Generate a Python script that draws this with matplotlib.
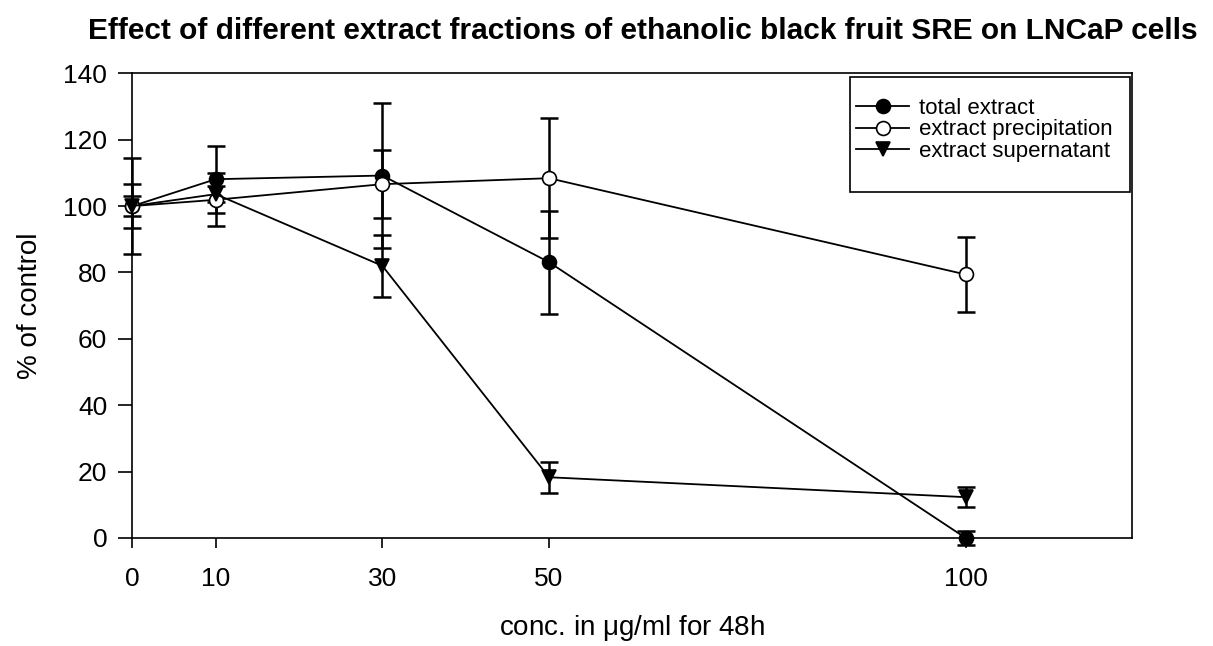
import matplotlib
matplotlib.use("Agg")
import matplotlib.pyplot as plt
from matplotlib.patches import Rectangle

plt.rcParams['font.family'] = ['Liberation Sans', 'DejaVu Sans']
plt.rcParams['mathtext.fontset'] = 'custom'
plt.rcParams['mathtext.rm'] = 'Liberation Sans'

conc = [0, 10, 30, 50, 100]

total_mean = [100, 108.1, 109.2, 83.1, 0.0]
total_err = [14.5, 10.1, 21.9, 15.5, 2.2]

precip_mean = [100, 101.9, 106.6, 108.4, 79.4]
precip_err = [6.6, 8.0, 10.3, 18.0, 11.3]

super_mean = [100, 103.6, 82.0, 18.3, 12.3]
super_err = [3.0, 2.5, 9.3, 4.7, 3.0]

labels = ["total extract", "extract precipitation", "extract supernatant"]
x_ticks = [0, 10, 30, 50, 100]
y_ticks = [0, 20, 40, 60, 80, 100, 120, 140]

fig = plt.figure(figsize=(12.13, 6.46), dpi=100)
ax = fig.add_axes([0.1091, 0.1672, 0.8244, 0.7193])

series = [
    (total_mean, total_err, 'o', 'black', labels[0]),
    (precip_mean, precip_err, 'o', 'white', labels[1]),
    (super_mean, super_err, 'v', 'black', labels[2]),
]

for mean, err, mk, fc, lab in series:
    eb = ax.errorbar(conc, mean, yerr=err, fmt='none', ecolor='black',
                     elinewidth=1.8, capsize=6.5, capthick=1.8, zorder=2)
    for art in eb.lines[1] + eb.lines[2]:
        art.set_clip_on(False)
for mean, err, mk, fc, lab in series:
    ax.plot(conc, mean, color='black', lw=1.3, marker=mk, markersize=10,
            markerfacecolor=fc, markeredgecolor='black', markeredgewidth=1.2,
            label=lab, zorder=3, clip_on=False)

ax.set_xlim(0, 120)
ax.set_ylim(0, 140)
ax.set_xticks(x_ticks)
ax.set_yticks(y_ticks)
ax.tick_params(direction='out', width=1.2, labelsize=19)
ax.tick_params(axis='x', length=7, pad=14)
ax.tick_params(axis='y', length=10, pad=8)
for sp in ax.spines.values():
    sp.set_linewidth(1.2)

ax.set_xlabel(r"conc. in $\mathrm{\mu}$g/ml for 48h", fontsize=20, labelpad=16)
ax.set_ylabel("% of control", fontsize=20, labelpad=15)
ax.set_title("Effect of different extract fractions of ethanolic black fruit SRE on LNCaP cells",
             fontsize=21.5, fontweight='bold', pad=25, x=0.51)

# legend entries without their own frame; the box is drawn separately
leg = ax.legend(loc='upper right', bbox_to_anchor=(0.9807, 0.9470),
                fontsize=16, frameon=False, borderaxespad=0, borderpad=0,
                handlelength=2.4, handletextpad=0.45, labelspacing=0.02)
box = Rectangle((0.7177, 0.7446), 0.9977 - 0.7177, 0.9920 - 0.7446,
                transform=ax.transAxes, facecolor='white', edgecolor='black',
                linewidth=1.2, zorder=4)
ax.add_patch(box)
leg.set_zorder(5)

fig.savefig("out.png", dpi=100)
